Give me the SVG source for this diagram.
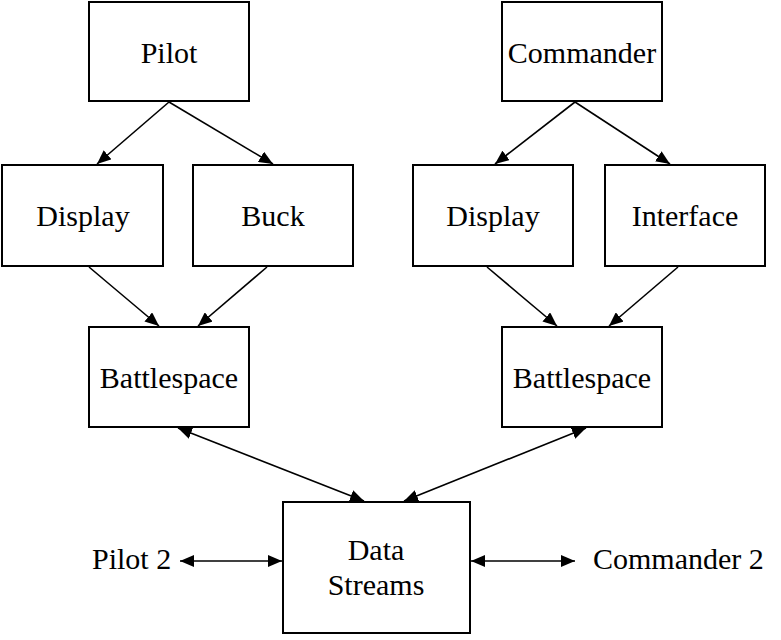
<svg xmlns="http://www.w3.org/2000/svg" width="781" height="640" viewBox="0 0 781 640">
<style>
.box{fill:#fff;stroke:#000;stroke-width:2}
.lbl{font-family:"Liberation Serif","Times New Roman",serif;font-size:30px;fill:#000;text-anchor:middle}
.side{font-family:"Liberation Serif","Times New Roman",serif;font-size:30px;fill:#000}
.c{stroke:#000;stroke-width:1.6;fill:none;marker-end:url(#ah)}
.d{marker-start:url(#ah)}
</style>
<defs>
<marker id="ah" viewBox="0 0 14 12" refX="14" refY="6" markerWidth="14" markerHeight="12" markerUnits="userSpaceOnUse" orient="auto-start-reverse">
<path d="M0,0 L14,6 L0,12 z" fill="#000"/>
</marker>
</defs>
<rect width="781" height="640" fill="#fff"/>
<g id="connectors">
<line class="c" x1="169" y1="102" x2="97" y2="164"/>
<line class="c" x1="169" y1="102" x2="273" y2="164"/>
<line class="c" x1="575" y1="102" x2="495" y2="164"/>
<line class="c" x1="575" y1="102" x2="670" y2="164"/>
<line class="c" x1="89" y1="267" x2="159" y2="326"/>
<line class="c" x1="267" y1="267" x2="198" y2="326"/>
<line class="c" x1="487" y1="267" x2="557" y2="326"/>
<line class="c" x1="678" y1="267" x2="609" y2="326"/>
<line class="c d" x1="178" y1="428" x2="364" y2="501"/>
<line class="c d" x1="586" y1="428" x2="404" y2="501"/>
<line class="c d" x1="180" y1="561" x2="282" y2="561"/>
<line class="c d" x1="471" y1="561" x2="575" y2="561"/>
</g>
<g id="pilot"><rect class="box" x="89" y="2" width="160" height="99"/><text class="lbl" x="169" y="63">Pilot</text></g>
<g id="commander"><rect class="box" x="502" y="2" width="160" height="99"/><text class="lbl" x="582" y="63">Commander</text></g>
<g id="display-left"><rect class="box" x="2" y="165" width="161" height="101"/><text class="lbl" x="83" y="226">Display</text></g>
<g id="buck"><rect class="box" x="193" y="165" width="160" height="101"/><text class="lbl" x="273" y="226">Buck</text></g>
<g id="display-right"><rect class="box" x="413" y="165" width="160" height="101"/><text class="lbl" x="493" y="226">Display</text></g>
<g id="interface"><rect class="box" x="605" y="165" width="160" height="101"/><text class="lbl" x="685" y="226">Interface</text></g>
<g id="battlespace-left"><rect class="box" x="89" y="327" width="160" height="100"/><text class="lbl" x="169" y="388">Battlespace</text></g>
<g id="battlespace-right"><rect class="box" x="502" y="327" width="160" height="100"/><text class="lbl" x="582" y="388">Battlespace</text></g>
<g id="data-streams"><rect class="box" x="283" y="502" width="187" height="131"/><text class="lbl" x="376" y="560">Data</text><text class="lbl" x="376" y="595">Streams</text></g>
<g id="pilot2"><text class="side" x="92" y="569">Pilot 2</text></g>
<g id="commander2"><text class="side" x="593" y="569">Commander 2</text></g>
</svg>
